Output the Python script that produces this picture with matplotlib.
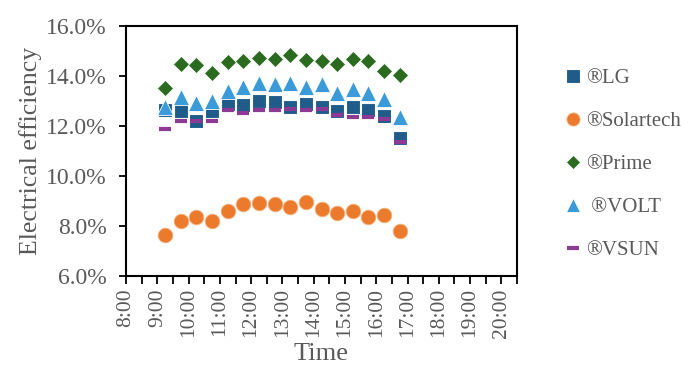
import numpy as np
from matplotlib import pyplot as plt
from matplotlib.ticker import FuncFormatter, MultipleLocator

# sample times (hh:mm) and efficiency readings in %
times = ['9:15', '9:45', '10:15', '10:45', '11:15', '11:45', '12:15', '12:45',
         '13:15', '13:45', '14:15', '14:45', '15:15', '15:45', '16:15', '16:45']
lg = [12.65, 12.59, 12.19, 12.59, 12.90, 12.86, 12.99, 12.95,
      12.76, 12.90, 12.76, 12.59, 12.76, 12.63, 12.41, 11.52]
solartech = [7.63, 8.21, 8.37, 8.21, 8.61, 8.87, 8.93, 8.87,
             8.75, 8.95, 8.67, 8.53, 8.61, 8.35, 8.44, 7.80]
prime = [13.53, 14.49, 14.46, 14.15, 14.57, 14.60, 14.73, 14.69,
         14.86, 14.66, 14.60, 14.49, 14.69, 14.60, 14.23, 14.06]
volt = [12.76, 13.19, 12.92, 12.99, 13.42, 13.57, 13.75, 13.70,
        13.75, 13.59, 13.69, 13.35, 13.50, 13.35, 13.08, 12.36]
vsun = [11.88, 12.22, 12.22, 12.22, 12.63, 12.52, 12.63, 12.63,
        12.68, 12.63, 12.68, 12.45, 12.36, 12.36, 12.28, 11.38]

hours = [int(t.split(':')[0]) + int(t.split(':')[1]) / 60 for t in times]

plt.rcParams['font.family'] = ['Liberation Serif', 'DejaVu Serif']
grey = '#595959'

fig = plt.figure(figsize=(6.94, 3.71), dpi=100)
ax = fig.add_axes([0.1816, 0.2569, 0.5634, 0.6717])

ax.plot(hours, lg, 's', ms=10.5, color='#1F5C8A', mec='white', mew=0.8, label='®LG')
ax.plot(hours, solartech, 'o', ms=10.5, color='#EC7A2C', mec='#F3B27E', mew=0.6, label='®Solartech')
ax.plot(hours, prime, 'D', ms=8, color='#2A6B1F', mec='white', mew=0.5, label='®Prime')
ax.plot(hours, volt, '^', ms=11, color='#3B9BD8', mec='white', mew=0.6, label=' ®VOLT')
ax.plot(hours, vsun, '_', ms=9, color='#8C3A94', mew=3, label='®VSUN')

ax.set_xlim(8, 20.5)
ax.set_ylim(6, 16)
ax.xaxis.set_major_locator(MultipleLocator(1))
ax.xaxis.set_minor_locator(MultipleLocator(0.5))
ax.xaxis.set_major_formatter(FuncFormatter(lambda v, p: f'{int(round(v))}:00'))
ax.yaxis.set_major_locator(MultipleLocator(2))
ax.yaxis.set_major_formatter(FuncFormatter(lambda v, p: f'{v:.1f}%'))

ax.tick_params(axis='x', which='both', direction='out', length=6, width=1.3,
               rotation=90, labelsize=15.5, labelcolor=grey, pad=3)
ax.tick_params(axis='y', direction='out', length=5, width=1.3,
               labelsize=17, labelcolor=grey, pad=9)
for s in ax.spines.values():
    s.set_linewidth(1.5)
    s.set_color('black')

ax.set_ylabel('Electrical efficiency', fontsize=18.5, color=grey, labelpad=3)
ax.set_xlabel('Time', fontsize=19, color=grey, labelpad=4)

ax.legend(loc='upper left', bbox_to_anchor=(1.07, 0.905), frameon=False,
          fontsize=15, labelcolor=grey, labelspacing=1.12, handletextpad=0.2,
          handlelength=0.9, markerscale=0.9)

fig.savefig('out.png', dpi=100)
